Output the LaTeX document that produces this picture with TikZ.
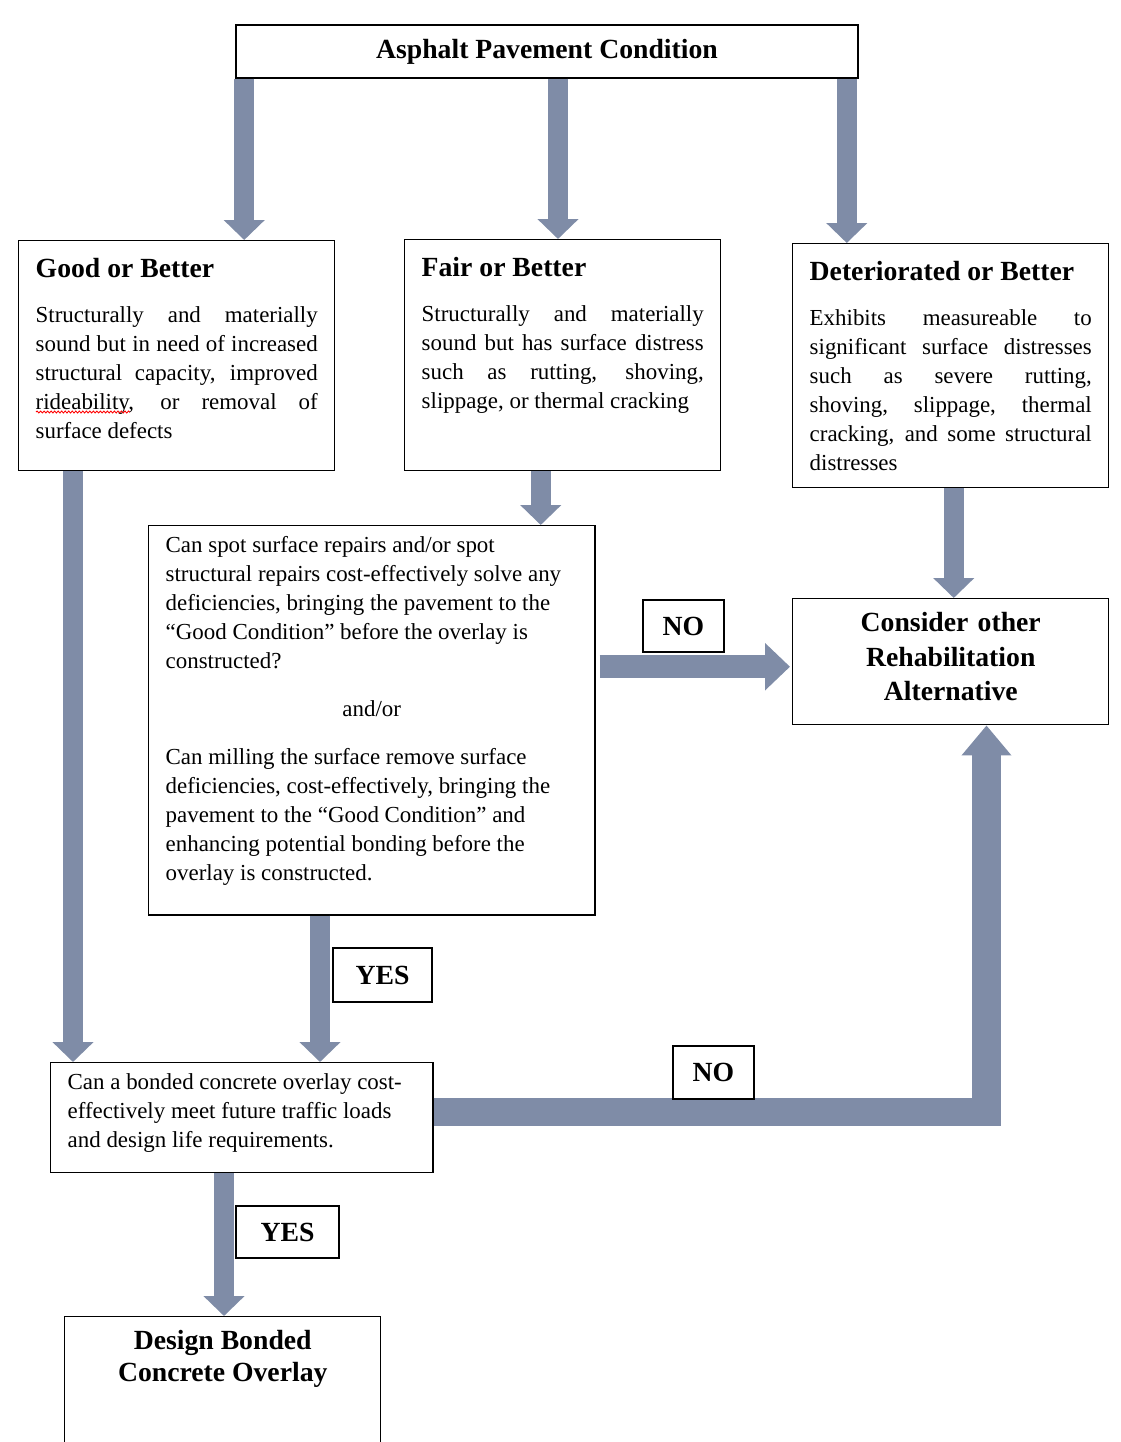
\documentclass[tikz,border=0pt]{standalone}
\usepackage{fontspec}
\setmainfont{Liberation Serif}
\usetikzlibrary{arrows.meta,calc,decorations.pathmorphing}
\definecolor{arrowblue}{RGB}{127,140,167}
\newcommand{\titlefont}{\fontsize{19.7}{24.8}\selectfont\bfseries}
\newcommand{\bodyfont}{\fontsize{16.3}{20.63}\selectfont}
\newcommand{\boxtext}[3]{\begin{minipage}[t][#1][t]{#2}\tolerance=10000 \hbadness=10000 #3\end{minipage}}

\begin{document}
\begin{tikzpicture}[x=0.025cm, y=-0.025cm,
    panel/.style={draw, line width=1pt, fill=white, inner xsep=0.425cm, anchor=north west},
    tag/.style={draw, line width=1pt, fill=white, inner sep=0pt, font=\titlefont},
    bigarrow/.style={arrowblue, line width=0.5cm, -{Triangle[width=1cm,length=0.5cm]}}]
	\useasboundingbox (0,0) rectangle (1120,1442);
	\clip (0,0) rectangle (1120,1442);

	\node[tag, minimum width=15.55cm, minimum height=1.325cm] (top) at (547,51.5) {Asphalt Pavement Condition};

	\node[panel, inner ysep=0.44cm] (good) at (18,240) {\boxtext{4.87cm}{7.05cm}{%
		{\titlefont Good or Better\par}\vspace{11pt}\bodyfont
		Structurally and materially\linebreak sound but in need of increased\linebreak
		structural capacity, improved\linebreak rideability, or removal of\linebreak surface defects}};
	\node[panel, inner ysep=0.44cm] (fair) at (404,239) {\boxtext{4.895cm}{7.05cm}{%
		{\titlefont Fair or Better\par}\vspace{11pt}\bodyfont
		Structurally and materially\linebreak sound but has surface distress\linebreak
		such as rutting, shoving,\linebreak slippage, or thermal cracking}};
	\node[panel, inner ysep=0.44cm] (det) at (792,243) {\boxtext{5.22cm}{7.05cm}{%
		{\titlefont Deteriorated or Better\par}\vspace{11pt}\bodyfont
		Exhibits measureable to\linebreak significant surface distresses\linebreak
		such as severe rutting,\linebreak shoving, slippage, thermal\linebreak
		cracking, and some structural\linebreak distresses}};

	\node[panel, inner ysep=0.255cm] (q1) at (148,525) {\boxtext{9.215cm}{10.3cm}{%
		\bodyfont\raggedright
		Can spot surface repairs and/or spot\\ structural repairs cost-effectively solve any\\
		deficiencies, bringing the pavement to the\\ “Good Condition” before the overlay is\\
		constructed?\par\vspace{13.5pt}
		\centering and/or\par\vspace{13.5pt}
		\raggedright Can milling the surface remove surface\\ deficiencies, cost-effectively, bringing the\\
		pavement to the “Good Condition” and\\ enhancing potential bonding before the\\
		overlay is constructed.}};

	\node[draw, line width=1pt, fill=white, text width=7.05cm, inner xsep=0.425cm, inner ysep=0pt,
		minimum height=3.15cm, align=center, font=\titlefont, anchor=north west] (cons) at (792,598)
		{Consider other\\ Rehabilitation\\ Alternative\strut};

	\node[panel, inner ysep=0.28cm] (q2) at (50,1062) {\boxtext{2.19cm}{8.7cm}{%
		\bodyfont\raggedright
		Can a bonded concrete overlay cost-\\ effectively meet future traffic loads\\
		and design life requirements.}};

	\node[panel, inner ysep=0.33cm] (design) at (64,1316) {\boxtext{2.94cm}{7.05cm}{%
		\fontsize{19.7}{22.7}\selectfont\bfseries\centering Design Bonded\\ Concrete Overlay}};

	\draw[red, line width=0.6pt, decorate, decoration={snake, amplitude=0.7pt, segment length=2.5pt}] (36,412) -- (130,412);

	% block arrows
	\coordinate (a1) at ($(top.south west)+(9,0)$);
	\coordinate (a2) at ($(top.south)+(11,0)$);
	\coordinate (a3) at ($(top.south east)+(-12,0)$);
	\draw[bigarrow] (a1) -- (a1 |- good.north);
	\draw[bigarrow] (a2) -- (a2 |- fair.north);
	\draw[bigarrow] (a3) -- (a3 |- det.north);

	\coordinate (a4) at ($(good.south west)+(55,0)$);
	\coordinate (a5) at ($(fair.south)+(-22,0)$);
	\coordinate (a6) at ($(det.south)+(3,0)$);
	\draw[bigarrow] (a4) -- (a4 |- q2.north);
	\draw[bigarrow] (a5) -- (a5 |- q1.north);
	\draw[bigarrow] (a6) -- (a6 |- cons.north);

	\coordinate (a7) at ($(cons.west)+(-2,5)$);
	\draw[bigarrow, line width=0.575cm, -{Triangle[width=1.15cm,length=0.625cm]}] ($(q1.east |- a7)+(4,0)$) -- (a7);

	\coordinate (a8) at ($(q1.south west)+(172,0)$);
	\draw[bigarrow] (a8) -- (a8 |- q2.north);

	\coordinate (a9) at ($(cons.south east)+(-123,0)$);
	\coordinate (b9) at ($(q2.east)+(0,-6)$);
	\draw[bigarrow, line width=0.7cm, line join=miter, -{Triangle[width=1.2cm,length=0.75cm]}] (b9) -| (a9);

	\coordinate (a10) at ($(q2.south west)+(174,0)$);
	\draw[bigarrow] (a10) -- (a10 |- design.north);

	% answer tags
	\node[tag, minimum width=2.025cm, minimum height=1.3cm] (no1) at (683.5,626) {NO};
	\node[tag, minimum width=2.475cm, minimum height=1.35cm] (yes1) at (382.5,975) {YES};
	\node[tag, minimum width=2.025cm, minimum height=1.325cm] (no2) at (713.5,1072.5) {NO};
	\node[tag, minimum width=2.575cm, minimum height=1.3cm] (yes2) at (287.5,1232) {YES};

\end{tikzpicture}
\end{document}
